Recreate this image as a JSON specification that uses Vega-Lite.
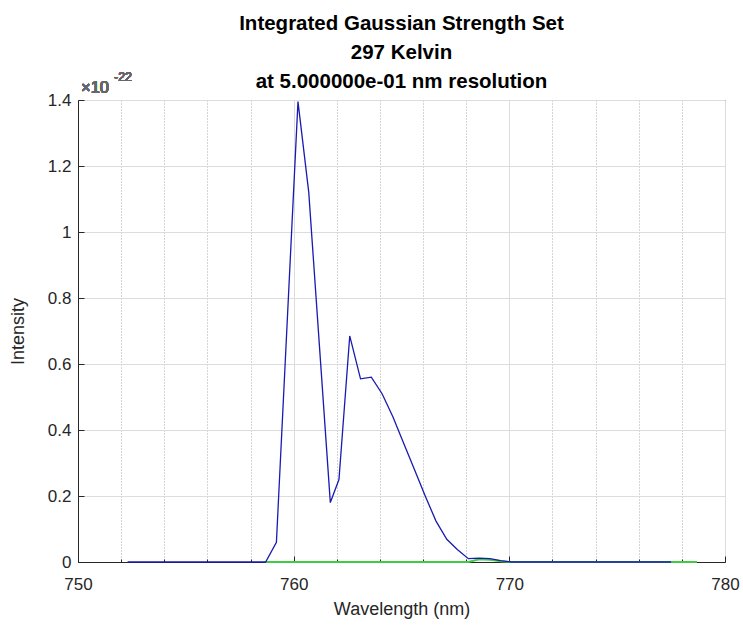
{
  "$schema": "https://vega.github.io/schema/vega-lite/v6.json",
  "width": 647,
  "height": 462,
  "autosize": {"type": "none"},
  "padding": {"left": 78, "top": 100, "right": 18, "bottom": 64},
  "background": "white",
  "config": {
    "font": "Liberation Sans",
    "view": {"stroke": "#262626", "strokeWidth": 1}
  },
  "title": {
    "text": ["Integrated Gaussian Strength Set", "297 Kelvin", "at 5.000000e-01 nm resolution"],
    "anchor": "middle",
    "frame": "group",
    "fontSize": 20.5,
    "fontWeight": "bold",
    "color": "#000000",
    "lineHeight": 29,
    "offset": -21
  },
  "datasets": {
    "spectra": [
      {"series": "A", "wl": 752.3, "val": 0},
      {"series": "A", "wl": 758.7, "val": 0},
      {"series": "A", "wl": 759.2, "val": 0.06},
      {"series": "A", "wl": 760.2, "val": 1.395},
      {"series": "A", "wl": 760.7, "val": 1.12},
      {"series": "A", "wl": 761.7, "val": 0.18},
      {"series": "A", "wl": 762.1, "val": 0.25},
      {"series": "A", "wl": 762.6, "val": 0.685},
      {"series": "A", "wl": 763.1, "val": 0.555},
      {"series": "A", "wl": 763.6, "val": 0.56},
      {"series": "A", "wl": 764.1, "val": 0.51},
      {"series": "A", "wl": 764.6, "val": 0.44},
      {"series": "A", "wl": 765.1, "val": 0.36},
      {"series": "A", "wl": 765.6, "val": 0.28},
      {"series": "A", "wl": 766.1, "val": 0.2},
      {"series": "A", "wl": 766.6, "val": 0.124},
      {"series": "A", "wl": 767.1, "val": 0.069},
      {"series": "A", "wl": 767.6, "val": 0.037},
      {"series": "A", "wl": 768.1, "val": 0.01},
      {"series": "A", "wl": 768.6, "val": 0.012},
      {"series": "A", "wl": 769.1, "val": 0.01},
      {"series": "A", "wl": 769.6, "val": 0.004},
      {"series": "A", "wl": 770.1, "val": 0},
      {"series": "A", "wl": 777.5, "val": 0},
      {"series": "B", "wl": 758.7, "val": 0},
      {"series": "B", "wl": 768.1, "val": 0},
      {"series": "B", "wl": 768.6, "val": 0.008},
      {"series": "B", "wl": 769.1, "val": 0.007},
      {"series": "B", "wl": 769.6, "val": 0.002},
      {"series": "B", "wl": 770.1, "val": 0},
      {"series": "B", "wl": 778.7, "val": 0}
    ]
  },
  "data": {"name": "spectra"},
  "layer": [
    {
      "mark": {"type": "line", "strokeWidth": 2},
      "transform": [{"filter": "datum.series === 'B'"}],
      "encoding": {
        "x": {"field": "wl", "type": "quantitative"},
        "y": {"field": "val", "type": "quantitative"},
        "color": {"value": "#3fcc3f"},
        "order": {"field": "wl", "type": "quantitative"}
      }
    },
    {
      "mark": {"type": "line", "strokeWidth": 1.3},
      "transform": [{"filter": "datum.series === 'A'"}],
      "encoding": {
        "x": {
          "field": "wl",
          "type": "quantitative",
          "scale": {"domain": [750, 780], "nice": false, "zero": false},
          "axis": {
            "title": "Wavelength (nm)",
            "titleFont": "Liberation Sans",
            "titleFontSize": 18,
            "titleFontWeight": "normal",
            "titleColor": "#262626",
            "titlePadding": 8,
            "values": [750,751,752,753,754,755,756,757,758,759,760,761,762,763,764,765,766,767,768,769,770,771,772,773,774,775,776,777,778,779,780],
            "labelExpr": "datum.value % 5 === 0 ? datum.label : ''",
            "labelFontSize": 17,
            "labelColor": "#262626",
            "labelPadding": 20,
            "labelFlush": false,
            "domainColor": "#262626",
            "tickColor": "#262626",
            "tickSize": {"condition": {"test": "datum.value % 5 === 0", "value": -6}, "value": -3},
            "grid": true,
            "gridColor": {"condition": {"test": "datum.value % 5 === 0", "value": "#dcdcdc"}, "value": "#a8a8a8"},
            "gridDash": {"condition": {"test": "datum.value % 5 === 0", "value": []}, "value": [1, 2]},
            "gridWidth": 1
          }
        },
        "y": {
          "field": "val",
          "type": "quantitative",
          "scale": {"domain": [0, 1.4], "nice": false},
          "axis": {
            "title": "Intensity",
            "titleFont": "Liberation Sans",
            "titleFontSize": 18,
            "titleFontWeight": "normal",
            "titleColor": "#262626",
            "titlePadding": 20,
            "values": [0,0.05,0.1,0.15,0.2,0.25,0.3,0.35,0.4,0.45,0.5,0.55,0.6,0.65,0.7,0.75,0.8,0.85,0.9,0.95,1,1.05,1.1,1.15,1.2,1.25,1.3,1.35,1.4],
            "labelExpr": "round(datum.value * 100) % 20 === 0 ? format(datum.value, '~g') : ''",
            "labelFontSize": 17,
            "labelColor": "#262626",
            "labelPadding": 13,
            "labelFlush": false,
            "domainColor": "#262626",
            "tickColor": "#262626",
            "tickSize": {"condition": {"test": "round(datum.value * 100) % 20 === 0", "value": -6}, "value": -3},
            "grid": true,
            "gridColor": {"condition": {"test": "round(datum.value * 100) % 20 === 0", "value": "#dcdcdc"}, "value": "#a8a8a8"},
            "gridDash": {"condition": {"test": "round(datum.value * 100) % 20 === 0", "value": []}, "value": [1.5, 2.5]},
            "gridWidth": 1
          }
        },
        "color": {"value": "#1a1ab0"},
        "order": {"field": "wl", "type": "quantitative"}
      }
    },
    {
      "mark": {"type": "text", "text": "×10", "align": "left", "baseline": "alphabetic", "dx": 3, "dy": -7, "fontSize": 16.5, "color": "#666666", "font": "Liberation Sans"},
      "encoding": {
        "x": {"datum": 750, "type": "quantitative"},
        "y": {"datum": 1.4, "type": "quantitative"}
      }
    },
    {
      "mark": {"type": "text", "text": "-22", "align": "left", "baseline": "alphabetic", "dx": 36, "dy": -19, "fontSize": 12.5, "color": "#666666", "font": "Liberation Sans"},
      "encoding": {
        "x": {"datum": 750, "type": "quantitative"},
        "y": {"datum": 1.4, "type": "quantitative"}
      }
    }
  ]
}
